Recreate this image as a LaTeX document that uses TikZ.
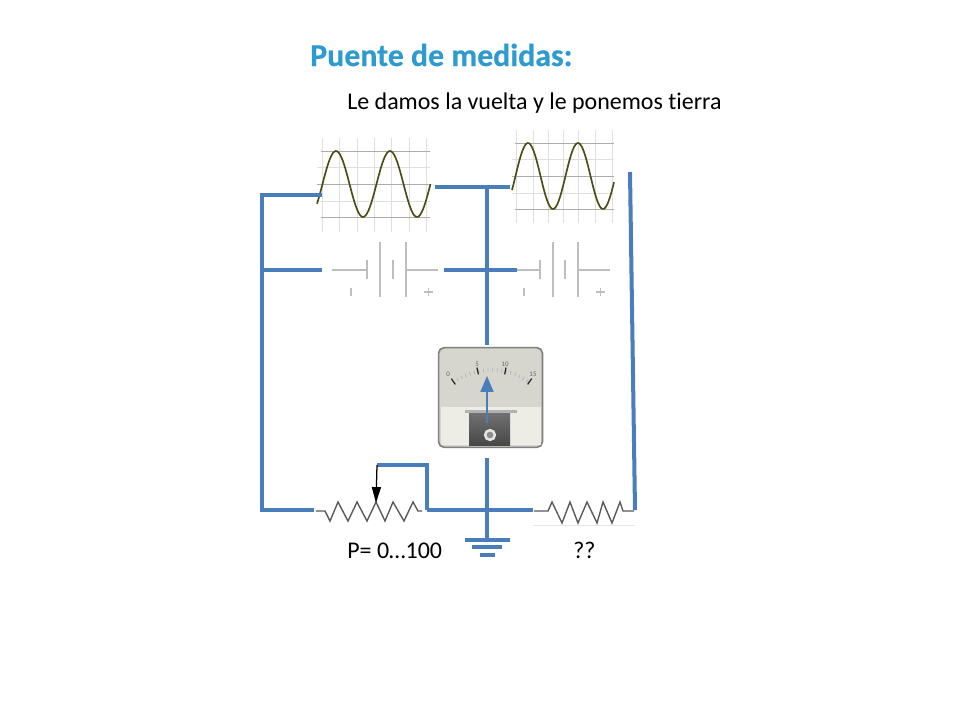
\documentclass[tikz,border=0pt]{standalone}
\usepackage{fontspec}
\setmainfont{Carlito}[Ligatures=NoCommon,BoldFeatures={FakeBold=0.5}]
\usepackage{xcolor}
\usetikzlibrary{arrows,arrows.meta}
\definecolor{wireblue}{HTML}{4A7EBB}
\definecolor{titleblue}{HTML}{2E9BD0}
\definecolor{tracegreen}{HTML}{4B4B14}
\definecolor{batgray}{HTML}{BEBEBE}
\definecolor{faceupper}{HTML}{D6D6CE}
\definecolor{facelower}{HTML}{EDECE5}
\tikzset{
  wire/.style={draw=wireblue,line width=2.9pt},
  gridline/.style={draw=gray!25,line width=0.6pt},
  gridmain/.style={draw=gray!65,line width=0.7pt},
  trace/.style={draw=tracegreen,line width=1.2pt},
  batline/.style={draw=batgray,line width=1.2pt},
  resline/.style={draw=black!65,line width=1pt},
  label/.style={anchor=base west,inner sep=0pt,text=black,font=\fontsize{17.3}{20}\selectfont},
  dial/.style={font=\fontsize{5}{5}\selectfont,inner sep=0pt,text=black!60}
}
\begin{document}
\begin{tikzpicture}[x=0.01in,y=-0.01in]
\useasboundingbox (0,0) rectangle (960,720);
\begin{scope}[>=triangle 45]

    % texts
    \node[anchor=base west,inner sep=0pt,text=titleblue,font=\fontsize{23}{28}\bfseries\selectfont] (title) at (310,66) {Puente de medidas:};
    \node[label] (subtitle) at (347,109) {Le damos la vuelta y le ponemos tierra};
    \node[label] (potlabel) at (347,558) {P= 0…100};
    \node[label] (unknown)  at (573,558) {??};

    % left generator
    \foreach \x in {322,339,357,374,391,409,426} \draw[gridline] (\x,138) -- (\x,232);
    \draw[gridline] (317,167) -- (430,167);
    \draw[gridline] (317,201) -- (430,201);
    \draw[gridmain] (321,151) -- (430,151);
    \draw[gridmain] (317,184) -- (430,184);
    \draw[gridmain] (321,217) -- (430,217);
    \draw[trace] plot[domain=317:430.5,samples=80,smooth] (\x,{184-33*sin(6.6667*(\x-322.5))});

    % right generator
    \foreach \x in {516,533,548,563,578,595,612} \draw[gridline] (\x,130) -- (\x,223);
    \draw[gridline] (512,159) -- (614,159);
    \draw[gridline] (512,193) -- (614,193);
    \draw[gridmain] (515,143) -- (614,143);
    \draw[gridmain] (512,176) -- (614,176);
    \draw[gridmain] (515,209) -- (614,209);
    \draw[trace] plot[domain=512:614,samples=80,smooth] (\x,{176-33*sin(7.2*(\x-515.5))});

    % left battery
    \draw[batline] (332,270) -- (367,270);
    \draw[batline] (367,260) -- (367,279);
    \draw[batline] (380,242) -- (380,297);
    \draw[batline] (393,260) -- (393,279);
    \draw[batline] (406,242) -- (406,297);
    \draw[batline] (406,270) -- (438,270);
    \draw[batline] (351,288) -- (351,296);
    \draw[batline] (424,292) -- (433,292);
    \draw[batline] (428.5,288) -- (428.5,296);

    % right battery
    \draw[batline] (517,270) -- (540,270);
    \draw[batline] (540,260) -- (540,279);
    \draw[batline] (553,242) -- (553,297);
    \draw[batline] (565,260) -- (565,279);
    \draw[batline] (578,242) -- (578,297);
    \draw[batline] (578,270) -- (610,270);
    \draw[batline] (524,288) -- (524,296);
    \draw[batline] (596,292) -- (605,292);
    \draw[batline] (600.5,288) -- (600.5,296);

    % meter
    \node[draw=black!50,line width=1.2pt,fill=faceupper,rounded corners=4pt,minimum width=75pt,minimum height=72pt,inner sep=0pt] (meter) at (490.5,397.5) {};
    \fill[facelower] (441,407) rectangle (541,445);
    \shade[top color=black!55,bottom color=black!72] (469,411) rectangle (510,445);
    \fill[black!30] (465,410) rectangle (517,413);
    \draw[black!10,fill=black!45,line width=1.8pt] (490,435) circle (3.5pt);
    \foreach \a in {-35,-31,...,35} \draw[black!30,line width=0.5pt] ({491.5+67.8*sin(\a)},{436-67.8*cos(\a)}) -- ({491.5+64*sin(\a)},{436-64*cos(\a)});
    \foreach \a in {-35,-12,12,35} \draw[black!85,line width=0.9pt] ({491.5+70*sin(\a)},{436-70*cos(\a)}) -- ({491.5+63*sin(\a)},{436-63*cos(\a)});
    \node[dial] (d0)  at (448,374) {0};
    \node[dial] (d5)  at (477,364) {5};
    \node[dial] (d10) at (505,364) {10};
    \node[dial] (d15) at (533,374) {15};
    \coordinate (needletail) at (487,423);
    \coordinate (needletip)  at (487,376);
    \draw[->,draw=wireblue,fill=wireblue,line width=1.7pt] (needletail) -- (needletip);

    % resistors
    \node[inner sep=0pt] (potleft)  at (315,511) {};
    \node[inner sep=0pt] (potright) at (423,511) {};
    \node[inner sep=0pt] (resleft)  at (533,511) {};
    \node[inner sep=0pt] (resright) at (635,511) {};
    \draw[resline] (potleft) -- (325,511) -- (330,521) -- (338,502) -- (348,521) -- (357,502) -- (367,521) -- (376,502) -- (385,521) -- (393,502) -- (404,521) -- (413,502) -- (418,511) -- (potright);
    \draw[resline] (resleft) -- (548,511) -- (552,502) -- (562,523) -- (570,502) -- (578,523) -- (587,502) -- (597,523) -- (603,502) -- (612,523) -- (620,502) -- (623,511) -- (resright);
    \draw[black!10,line width=0.7pt] (533,525) -- (635,525);

    % wires
    \coordinate (gen1a) at (322,195);
    \coordinate (corner1) at (262,195);
    \coordinate (bat1a) at (322,270);
    \coordinate (left1) at (262,270);
    \coordinate (corner2) at (262,510);
    \coordinate (pot1) at (314,510);
    \coordinate (gen1b) at (435,187);
    \coordinate (gen2a) at (510,187);
    \coordinate (top) at (487,187);
    \coordinate (bat1b) at (444,270);
    \coordinate (bat2a) at (517,270);
    \coordinate (metertop) at (487,345);
    \coordinate (meterbot) at (487,458);
    \coordinate (gnd) at (487,540);
    \coordinate (wipera) at (377,465);
    \coordinate (wiperb) at (427,465);
    \coordinate (wiperc) at (427,510);
    \coordinate (res1) at (533,510);
    \coordinate (gen2b) at (630,172);
    \coordinate (res2) at (635,510);
    \coordinate (wipertip) at (376,503);

    \draw[wire] (gen1a) -- (corner1) -- (corner2) -- (pot1);
    \draw[wire] (bat1a) -- (left1);
    \draw[wire] (gen1b) -- (gen2a);
    \draw[wire] (top) -- (metertop);
    \draw[wire] (bat1b) -- (bat2a);
    \draw[wire] (meterbot) -- (gnd);
    \draw[wire] (wipera) -- (wiperb) -- (wiperc);
    \draw[wire] (wiperc) -- (res1);
    \draw[wire] (gen2b) -- (res2);
    \draw[-{Triangle[length=11.5pt,width=6.5pt]},line width=0.9pt] (wipera) -- (wipertip);

    % ground
    \node[fill=wireblue,minimum width=32.4pt,minimum height=2.9pt,inner sep=0pt] (gnd1) at (487.5,540) {};
    \node[fill=wireblue,minimum width=21.6pt,minimum height=2.9pt,inner sep=0pt] (gnd2) at (487,547) {};
    \node[fill=wireblue,minimum width=10.8pt,minimum height=2.9pt,inner sep=0pt] (gnd3) at (487.5,555) {};

\end{scope}
\end{tikzpicture}
\end{document}
